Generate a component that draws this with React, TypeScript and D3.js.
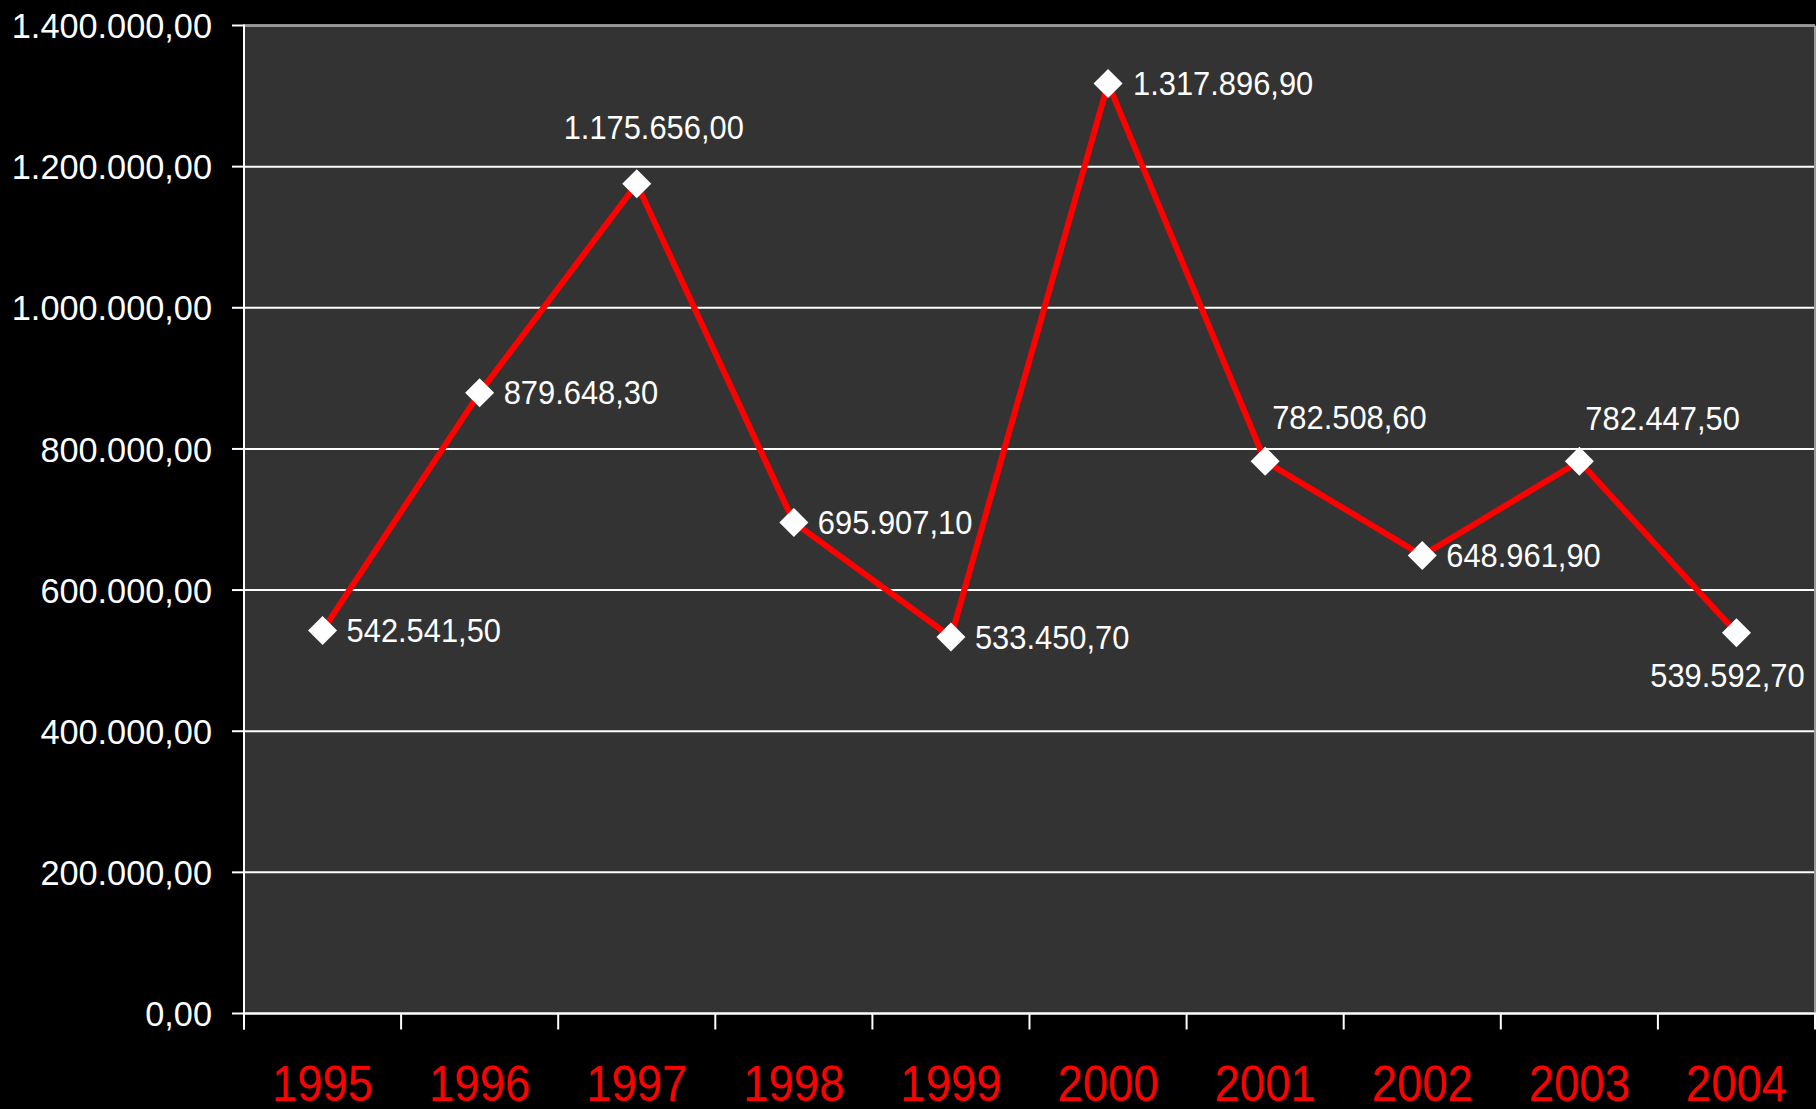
import React from "react";
import * as d3 from "d3";

const years = ["1995", "1996", "1997", "1998", "1999", "2000", "2001", "2002", "2003", "2004"];
const values = [542541.5, 879648.3, 1175656.0, 695907.1, 533450.7, 1317896.9, 782508.6, 648961.9, 782447.5, 539592.7];
const yTicks = [0, 200000, 400000, 600000, 800000, 1000000, 1200000, 1400000];

// label placement (layout only): anchor, dx, dy relative to marker center
const labelPlacement: { anchor: "start" | "middle"; dx: number; dy: number }[] = [
  { anchor: "start", dx: 24, dy: 0 },
  { anchor: "start", dx: 24, dy: 0 },
  { anchor: "middle", dx: 17, dy: -57 },
  { anchor: "start", dx: 24, dy: 0 },
  { anchor: "start", dx: 24, dy: 0 },
  { anchor: "start", dx: 25, dy: 0 },
  { anchor: "start", dx: 7, dy: -44 },
  { anchor: "start", dx: 24, dy: 0 },
  { anchor: "start", dx: 6, dy: -43 },
  { anchor: "middle", dx: -9, dy: 43 },
];

const W = 1816;
const H = 1109;
const left = 244;
const right = 1815;
const top = 25.5;
const bottom = 1013.5;

const locale = d3.formatLocale({ decimal: ",", thousands: ".", grouping: [3], currency: ["", ""] });
const fmt = locale.format(",.2f");

const FONT = "'Liberation Sans', Arial, Helvetica, sans-serif";

export default function App() {
  const x = d3.scaleBand<string>().domain(years).range([left, right]).padding(0);
  const y = d3.scaleLinear().domain([0, 1400000]).range([bottom, top]);
  const cx = (i: number) => (x(years[i]) as number) + x.bandwidth() / 2;
  const line = d3
    .line<number>()
    .x((_, i) => cx(i))
    .y((d) => y(d));
  const half = 14.5;
  const boundaries = d3.range(years.length + 1).map((i) => left + i * x.bandwidth());

  return (
    <svg
      width={W}
      height={H}
      style={{ position: "absolute", left: 0, top: 0, background: "#000" }}
      fontFamily={FONT}
    >
      <rect x={0} y={0} width={W} height={H} fill="#000" />
      <rect x={left} y={top} width={right - left} height={bottom - top} fill="#333333" />
      {yTicks.map((t) => (
        <line key={"g" + t} x1={left} x2={right} y1={y(t)} y2={y(t)} stroke="#ffffff" strokeWidth={2} />
      ))}
      <line x1={left} x2={right} y1={top} y2={top} stroke="#9a9a9a" strokeWidth={2} />
      <line x1={right} x2={right} y1={top} y2={bottom} stroke="#9a9a9a" strokeWidth={2} />
      <line x1={left} x2={left} y1={top - 1} y2={bottom + 16} stroke="#fff" strokeWidth={2} />
      {yTicks.map((t) => (
        <g key={"yt" + t}>
          <line x1={left - 12} x2={left} y1={y(t)} y2={y(t)} stroke="#fff" strokeWidth={2} />
          <g transform={`translate(${left - 32},${y(t)}) scale(0.98,1)`}>
            <text x={0} y={0} dy="0.36em" textAnchor="end" fill="#fff" fontSize={35}>
              {fmt(t)}
            </text>
          </g>
        </g>
      ))}
      <line x1={left} x2={right + 1} y1={bottom} y2={bottom} stroke="#fff" strokeWidth={2} />
      {boundaries.map((b, i) => (
        <line key={"xt" + i} x1={b} x2={b} y1={bottom} y2={bottom + 16} stroke="#fff" strokeWidth={2} />
      ))}
      {years.map((yr, i) => (
        <g key={"yl" + yr} transform={`translate(${cx(i)},1101) scale(0.91,1)`}>
          <text x={0} y={0} textAnchor="middle" fill="#ff0000" fontSize={50}>
            {yr}
          </text>
        </g>
      ))}
      <path d={line(values) || ""} fill="none" stroke="#ff0000" strokeWidth={6} strokeLinejoin="miter" />
      {values.map((v, i) => {
        const px = cx(i);
        const py = y(v);
        return (
          <path
            key={"m" + i}
            d={`M${px},${py - half}L${px + half},${py}L${px},${py + half}L${px - half},${py}Z`}
            fill="#ffffff"
          />
        );
      })}
      {values.map((v, i) => {
        const p = labelPlacement[i];
        return (
          <g key={"dl" + i} transform={`translate(${cx(i) + p.dx},${y(v) + p.dy}) scale(0.95,1)`}>
            <text x={0} y={0} dy="0.36em" textAnchor={p.anchor} fill="#fff" fontSize={32.5}>
              {fmt(v)}
            </text>
          </g>
        );
      })}
    </svg>
  );
}
